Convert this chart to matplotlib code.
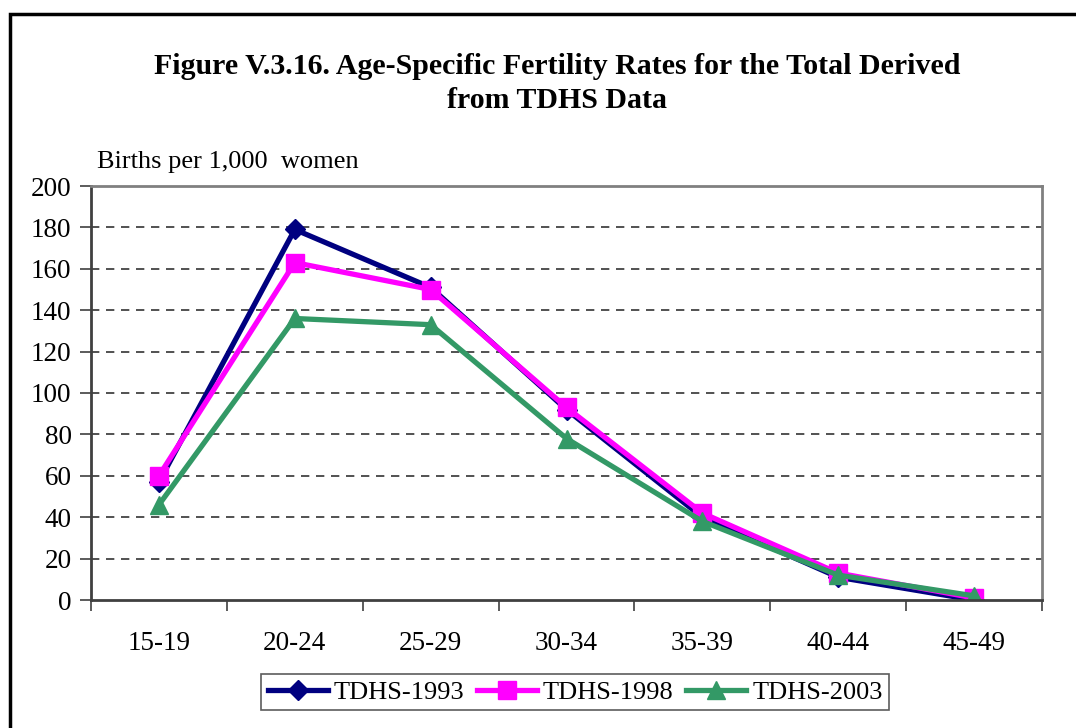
import matplotlib.pyplot as plt
from matplotlib.patches import Rectangle

ages = ['15-19', '20-24', '25-29', '30-34', '35-39', '40-44', '45-49']
tdhs_1993 = [57, 179, 151, 92, 40, 11, 0]
tdhs_1998 = [60, 163, 150, 93, 42, 13, 1]
tdhs_2003 = [46, 136, 133, 78, 38, 12, 2]

plt.rcParams['font.family'] = ['Liberation Serif', 'DejaVu Serif']

fig = plt.figure(figsize=(10.76, 7.28), dpi=100)
ax = fig.add_axes([91 / 1076, 1 - 600 / 728, 951 / 1076, 414 / 728])

# outer frame
fig.patches.append(Rectangle((10 / 1076, -0.01), 1.0, 1 - 14 / 728 + 0.01,
                             transform=fig.transFigure, fill=False,
                             edgecolor='black', linewidth=2.5))

x = range(len(ages))
ax.plot(x, tdhs_1993, color='#000080', linewidth=3.8, marker='D', markersize=10,
        label='TDHS-1993')
ax.plot(x, tdhs_1998, color='#FF00FF', linewidth=3.8, marker='s', markersize=12.5,
        label='TDHS-1998')
ax.plot(x, tdhs_2003, color='#339966', linewidth=3.8, marker='^', markersize=13,
        label='TDHS-2003')

ax.set_xlim(-0.5, len(ages) - 0.5)
ax.set_ylim(0, 200)
ax.set_yticks(range(0, 201, 20))
ax.set_xticks(x)
ax.set_xticklabels(ages)
ax.set_xticks([i - 0.5 for i in range(len(ages) + 1)], minor=True)
ax.tick_params(axis='x', which='major', length=0, pad=22, labelsize=19.5)
ax.tick_params(axis='x', which='minor', length=8, width=1.2, color='#404040')
ax.tick_params(axis='y', length=8, width=1.2, color='#404040', labelsize=19.5, pad=6)

for v in range(20, 200, 20):
    ax.axhline(v, color='#333333', linestyle=(0, (5, 4)), linewidth=1.2, zorder=0)

ax.spines['left'].set_color('#404040')
ax.spines['bottom'].set_color('#404040')
ax.spines['top'].set_color('#808080')
ax.spines['right'].set_color('#808080')
for s in ax.spines.values():
    s.set_linewidth(2)

fig.text(557 / 1076, 1 - 66 / 728,
         'Figure V.3.16. Age-Specific Fertility Rates for the Total Derived',
         ha='center', va='center', fontsize=21.5, fontweight='bold')
fig.text(557 / 1076, 1 - 101 / 728, 'from TDHS Data',
         ha='center', va='center', fontsize=21.5, fontweight='bold')
fig.text(97 / 1076, 1 - 162 / 728, 'Births per 1,000  women',
         ha='left', va='center', fontsize=19)

leg = fig.legend(loc='center', bbox_to_anchor=(575 / 1076, 1 - 692 / 728), ncol=3,
                 fontsize=19, frameon=True, fancybox=False, edgecolor='#333333',
                 handlelength=2.3, handletextpad=0.22, columnspacing=0.45,
                 borderpad=0.25, borderaxespad=0)
leg.get_frame().set_linewidth(1.2)

fig.savefig('out.png', dpi=100)
